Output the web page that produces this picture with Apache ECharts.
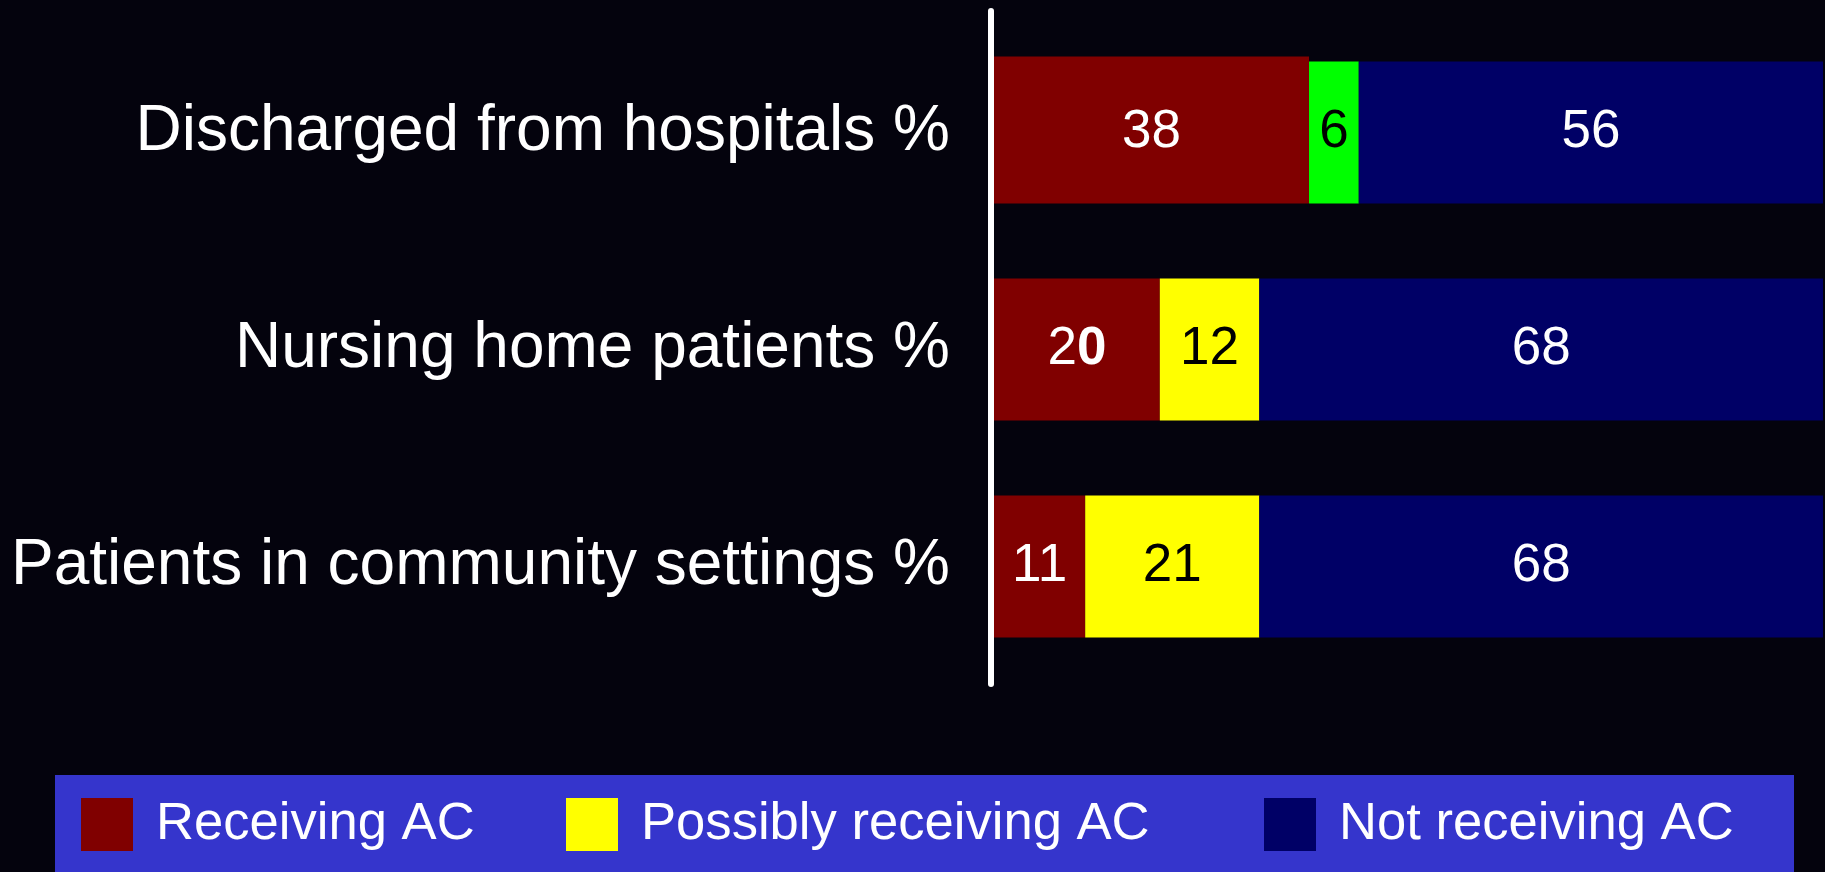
<!DOCTYPE html>
<html>
<head>
<meta charset="utf-8">
<title>Anticoagulation status by setting</title>
<script src="https://cdn.jsdelivr.net/npm/echarts@6/dist/echarts.min.js"></script>
<style>
  html, body { margin: 0; padding: 0; background: #04030d; }
  #chart { width: 1825px; height: 872px; }
</style>
</head>
<body>
<div id="chart"></div>
<script>
// Patient groups, top to bottom
const categories = [
  'Discharged from hospitals %',
  'Nursing home patients %',
  'Patients in community settings %'
];
// Share of each group (percent)
const receiving = [38, 20, 11];
const possibly = [6, 12, 21];
const notReceiving = [56, 68, 68];
const seriesNames = ['Receiving AC', 'Possibly receiving AC', 'Not receiving AC'];

const FONT = '"Liberation Sans", Arial, Helvetica, sans-serif';
const RED = '#800000', YELLOW = '#ffff00', GREEN = '#00ff00', NAVY = '#000066';
const LEGEND_BG = '#3535cc';

const chart = echarts.init(document.getElementById('chart'), null, { renderer: 'canvas' });

const barLabel = (color) => ({
  show: true,
  position: 'inside',
  color: color,
  fontFamily: FONT,
  fontSize: 53
});

// The hospital row: its receiving bar reaches a little higher, and its middle part is green
const receivingData = receiving.map((v, i) => {
  const item = { value: v };
  if (i === 0) item.itemStyle = { shadowColor: RED, shadowBlur: 0, shadowOffsetY: -5 };
  if (i === 1) {
    item.label = {
      formatter: '{n|2}{b|0}',
      rich: {
        n: { color: '#fff', fontSize: 53, fontFamily: FONT },
        b: { color: '#fff', fontSize: 53, fontFamily: FONT, fontWeight: 'bold' }
      }
    };
  }
  return item;
});
const possiblyData = possibly.map((v, i) => i === 0 ? { value: v, itemStyle: { color: GREEN } } : v);

// One legend entry per series, spread across the blue band
const legendLefts = [81, 566, 1264];
const legends = seriesNames.map((name, i) => ({
  left: legendLefts[i],
  top: 798,
  padding: 0,
  itemWidth: 52,
  itemHeight: 53,
  icon: 'rect',
  selectedMode: false,
  textStyle: {
    color: '#ffffff',
    fontFamily: FONT,
    fontSize: 52.6,
    padding: [0, 0, 0, 18]
  },
  data: [name]
}));

const option = {
  backgroundColor: '#04030d',
  animation: false,
  graphic: [{
    type: 'rect',
    left: 55,
    top: 775,
    z: 0,
    silent: true,
    shape: { width: 1739, height: 100 },
    style: { fill: LEGEND_BG }
  }],
  grid: [
    { left: 994, right: 2, top: 24, height: 651, containLabel: false },
    { left: 991, width: 20, top: 11, height: 673, containLabel: false }
  ],
  xAxis: [
    { gridIndex: 0, type: 'value', min: 0, max: 100, show: false },
    { gridIndex: 1, type: 'value', min: 0, max: 1, show: false }
  ],
  yAxis: [
    {
      gridIndex: 0,
      type: 'category',
      data: categories,
      inverse: true,
      axisLine: { show: false },
      axisTick: { show: false },
      splitLine: { show: false },
      axisLabel: {
        color: '#ffffff',
        fontFamily: FONT,
        fontSize: 64,
        margin: 44
      }
    },
    {
      gridIndex: 1,
      type: 'value',
      min: 0,
      max: 1,
      z: 10,
      axisLine: { show: true, lineStyle: { color: '#ffffff', width: 6 } },
      axisTick: { show: false },
      axisLabel: { show: false },
      splitLine: { show: false }
    }
  ],
  legend: legends,
  series: [
    {
      name: seriesNames[0],
      type: 'bar',
      stack: 'total',
      barWidth: 142,
      xAxisIndex: 0,
      yAxisIndex: 0,
      itemStyle: { color: RED },
      label: barLabel('#ffffff'),
      data: receivingData
    },
    {
      name: seriesNames[1],
      type: 'bar',
      stack: 'total',
      barWidth: 142,
      xAxisIndex: 0,
      yAxisIndex: 0,
      itemStyle: { color: YELLOW },
      label: barLabel('#000000'),
      data: possiblyData
    },
    {
      name: seriesNames[2],
      type: 'bar',
      stack: 'total',
      barWidth: 142,
      xAxisIndex: 0,
      yAxisIndex: 0,
      itemStyle: { color: NAVY },
      label: barLabel('#ffffff'),
      data: notReceiving
    }
  ]
};

chart.setOption(option);
</script>
</body>
</html>
